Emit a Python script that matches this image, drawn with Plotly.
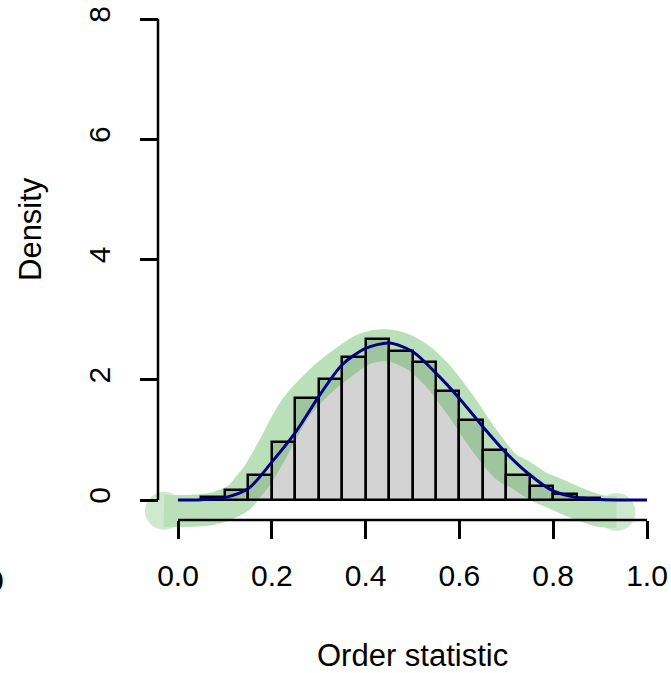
import plotly.graph_objects as go

# Histogram (density scale), bins of width 0.05
bar_mid = [0.075, 0.125, 0.175, 0.225, 0.275, 0.325, 0.375, 0.425, 0.475,
           0.525, 0.575, 0.625, 0.675, 0.725, 0.775, 0.825, 0.875]
bar_density = [0.05, 0.17, 0.42, 0.96, 1.69, 2.02, 2.38, 2.68, 2.47,
               2.30, 1.81, 1.33, 0.83, 0.42, 0.24, 0.095, 0.03]

# Thick translucent green density estimate
kde_x = [-0.03, 0.03, 0.07, 0.10, 0.13, 0.15, 0.17, 0.20, 0.25, 0.30, 0.35, 0.40,
         0.45, 0.50, 0.55, 0.60, 0.65, 0.70, 0.73, 0.77, 0.80, 0.85, 0.90, 0.935]
kde_y = [-0.18, -0.18, -0.15, -0.08, 0.04, 0.22, 0.42, 0.82, 1.52, 1.95, 2.27, 2.52,
         2.57, 2.43, 2.10, 1.60, 1.03, 0.55, 0.42, 0.22, 0.12, -0.05, -0.18, -0.20]

# Navy theoretical density curve
curve_x = [0.0, 0.05, 0.10, 0.15, 0.20, 0.25, 0.30, 0.35, 0.40, 0.45, 0.50,
           0.55, 0.60, 0.65, 0.70, 0.75, 0.80, 0.85, 0.90, 0.95, 1.0]
curve_y = [0.0, 0.005, 0.04, 0.19, 0.63, 1.12, 1.72, 2.25, 2.52, 2.61, 2.47,
           2.11, 1.69, 1.22, 0.78, 0.42, 0.15, 0.04, 0.01, 0.0, 0.0]

x_ticks = [0.0, 0.2, 0.4, 0.6, 0.8, 1.0]
x_ticktext = ["0.0", "0.2", "0.4", "0.6", "0.8", "1.0"]
y_ticks = [0, 2, 4, 6, 8]
y_ticktext = ["0", "2", "4", "6", "8"]

W, H = 671, 673
X0PX, XSCALE = 178.0, 469.0      # pixel of x=0, px per unit
Y0PX, YSCALE = 500.0, 60.125     # pixel of y=0, px per unit

xr = [(0 - X0PX) / XSCALE, (W - X0PX) / XSCALE]
yr = [(Y0PX - H) / YSCALE, Y0PX / YSCALE]

FONT = "Liberation Sans, Arial, Helvetica, sans-serif"
GREEN = "#4daf4a"

fig = go.Figure()
# gray fill of the bars (bottom layer)
fig.add_trace(go.Bar(x=bar_mid, y=bar_density, width=0.05,
                     marker=dict(color="#d3d3d3", line=dict(width=0)),
                     showlegend=False, hoverinfo="skip"))
# translucent green band
sizes = [38] + [0] * (len(kde_x) - 2) + [38]
fig.add_trace(go.Scatter(x=kde_x, y=kde_y, mode="lines+markers",
                         line=dict(color=GREEN, width=32, shape="spline", smoothing=1.0),
                         marker=dict(size=sizes, color=GREEN, line=dict(width=0)),
                         opacity=0.38, showlegend=False, hoverinfo="skip"))
# black bar borders on an overlaying axis pair so they sit above the green band
fig.add_trace(go.Bar(x=bar_mid, y=bar_density, width=0.05, xaxis="x2", yaxis="y2",
                     marker=dict(color="rgba(0,0,0,0)", line=dict(color="black", width=2.5)),
                     showlegend=False, hoverinfo="skip"))
fig.add_trace(go.Scatter(x=curve_x, y=curve_y, mode="lines", xaxis="x2", yaxis="y2",
                         line=dict(color="#000080", width=3, shape="spline", smoothing=0.8),
                         showlegend=False, hoverinfo="skip"))

xaxis_ypx = 520.0
yaxis_xpx = 158.0
fig.add_shape(type="line", xref="x", yref="y", x0=0, x1=1,
              y0=(Y0PX - xaxis_ypx) / YSCALE, y1=(Y0PX - xaxis_ypx) / YSCALE,
              line=dict(color="black", width=2.5))
fig.add_shape(type="line", xref="x", yref="y",
              x0=(yaxis_xpx - X0PX) / XSCALE, x1=(yaxis_xpx - X0PX) / XSCALE,
              y0=0, y1=8, line=dict(color="black", width=2.5))

hidden = dict(showticklabels=False, ticks="", showline=False, showgrid=False,
              zeroline=False, fixedrange=True)

fig.update_layout(
    width=W, height=H, margin=dict(l=0, r=0, t=0, b=0),
    paper_bgcolor="white", plot_bgcolor="white",
    font=dict(family=FONT, size=30, color="black"),
    barmode="overlay", bargap=0,
    xaxis=dict(range=xr, tickvals=x_ticks, ticktext=x_ticktext, ticks="outside",
               ticklen=18, tickwidth=2.5, tickcolor="black", showline=False,
               showgrid=False, zeroline=False, anchor="free",
               position=1 - xaxis_ypx / H, ticklabelstandoff=11,
               tickfont=dict(size=30), automargin=False, fixedrange=True),
    yaxis=dict(range=yr, tickvals=y_ticks, ticktext=y_ticktext, ticks="outside",
               ticklen=18, tickwidth=2.5, tickcolor="black", showline=False,
               showgrid=False, zeroline=False, anchor="free",
               position=yaxis_xpx / W, tickangle=-90, ticklabelstandoff=18,
               tickfont=dict(size=30), automargin=False, fixedrange=True),
    xaxis2=dict(range=xr, overlaying="x", anchor="y2", **hidden),
    yaxis2=dict(range=yr, overlaying="y", anchor="x2", **hidden),
    annotations=[
        dict(text="Order statistic", x=413 / W, y=1 - 655 / H, xref="paper", yref="paper",
             xanchor="center", yanchor="middle", showarrow=False, font=dict(size=31)),
        dict(text="Density", x=30 / W, y=1 - 229 / H, xref="paper", yref="paper",
             xanchor="center", yanchor="middle", textangle=-90, showarrow=False,
             font=dict(size=31)),
        dict(text="0", x=5.5 / W, y=1 - 580 / H, xref="paper", yref="paper",
             xanchor="right", yanchor="middle", showarrow=False, font=dict(size=30)),
    ],
)

fig.write_html("out.html")
